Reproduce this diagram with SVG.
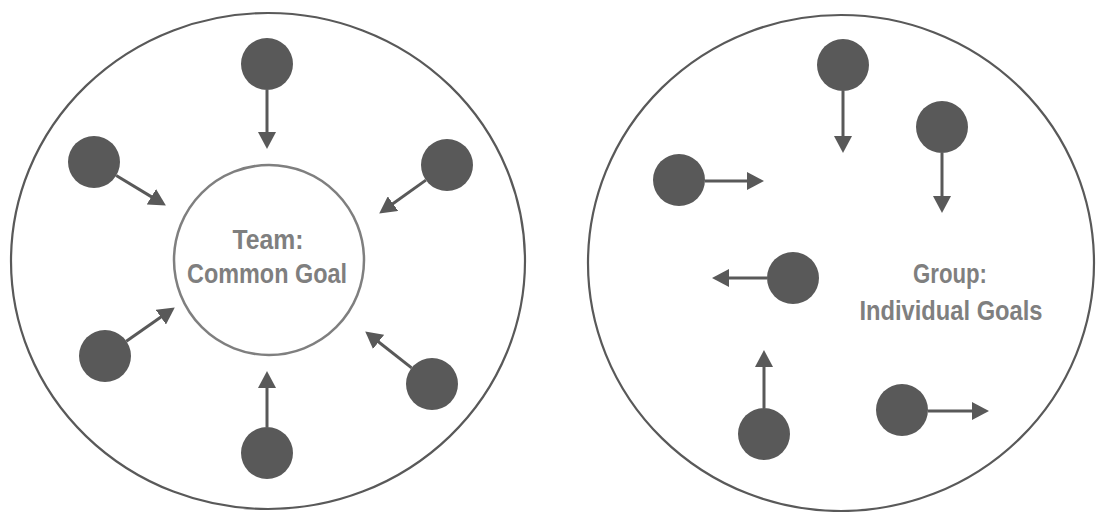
<svg xmlns="http://www.w3.org/2000/svg" width="1096" height="512" viewBox="0 0 1096 512">
<defs>
<style>
.outer{fill:none;stroke:#595959;stroke-width:2.2}
.inner{fill:none;stroke:#7f7f7f;stroke-width:2.5}
.dot{fill:#595959}
.conn{stroke:#595959;stroke-width:3;fill:none;marker-end:url(#ah)}
.lbl{font-family:"Liberation Sans",Arial,sans-serif;font-weight:bold;font-size:27px;fill:#7f7f7f;text-anchor:middle}
</style>
<marker id="ah" markerUnits="userSpaceOnUse" markerWidth="18" markerHeight="18" refX="8" refY="9" orient="auto" viewBox="0 0 18 18">
<path d="M0,0 L17,9 L0,18 z" fill="#595959"/>
</marker>
</defs>
<rect width="1096" height="512" fill="#fff"/>
<g id="team-boundary"><ellipse class="outer" cx="268" cy="261" rx="257" ry="248"/></g>
<g id="group-boundary"><ellipse class="outer" cx="841" cy="263" rx="253" ry="248"/></g>
<g id="team-goal">
<circle class="inner" cx="269" cy="260" r="95"/>
<text class="lbl" x="268" y="249" textLength="71" lengthAdjust="spacingAndGlyphs">Team:</text>
<text class="lbl" x="267" y="283" textLength="160" lengthAdjust="spacingAndGlyphs">Common Goal</text>
</g>
<g id="group-goal">
<text class="lbl" x="950" y="283" textLength="74" lengthAdjust="spacingAndGlyphs">Group:</text>
<text class="lbl" x="951" y="320" textLength="183" lengthAdjust="spacingAndGlyphs">Individual Goals</text>
</g>
<g id="t1"><circle class="dot" cx="267" cy="64" r="26"/></g>
<g id="t2"><circle class="dot" cx="94" cy="162" r="26"/></g>
<g id="t3"><circle class="dot" cx="447" cy="165" r="26"/></g>
<g id="t4"><circle class="dot" cx="105" cy="356" r="26"/></g>
<g id="t5"><circle class="dot" cx="432" cy="384" r="26"/></g>
<g id="t6"><circle class="dot" cx="267" cy="453" r="26"/></g>
<g id="g1"><circle class="dot" cx="843" cy="65" r="26"/></g>
<g id="g2"><circle class="dot" cx="942" cy="127" r="26"/></g>
<g id="g3"><circle class="dot" cx="679" cy="180" r="26"/></g>
<g id="g4"><circle class="dot" cx="793" cy="278" r="26"/></g>
<g id="g5"><circle class="dot" cx="764" cy="434" r="26"/></g>
<g id="g6"><circle class="dot" cx="902" cy="410" r="26"/></g>
<g id="connectors">
<line class="conn" x1="267" y1="90" x2="267" y2="140"/>
<line class="conn" x1="116.2" y1="175.5" x2="158.2" y2="200.9"/>
<line class="conn" x1="425.9" y1="180.1" x2="386.5" y2="208.3"/>
<line class="conn" x1="126.3" y1="341.2" x2="167.4" y2="312.6"/>
<line class="conn" x1="411.6" y1="367.9" x2="372.3" y2="337"/>
<line class="conn" x1="267" y1="427" x2="267" y2="380"/>
<line class="conn" x1="843" y1="91" x2="843" y2="144"/>
<line class="conn" x1="942" y1="153" x2="942" y2="204"/>
<line class="conn" x1="705" y1="181" x2="755" y2="181"/>
<line class="conn" x1="767" y1="278" x2="721" y2="278"/>
<line class="conn" x1="764" y1="408" x2="764" y2="359"/>
<line class="conn" x1="928" y1="411" x2="980" y2="411"/>
</g>
</svg>
